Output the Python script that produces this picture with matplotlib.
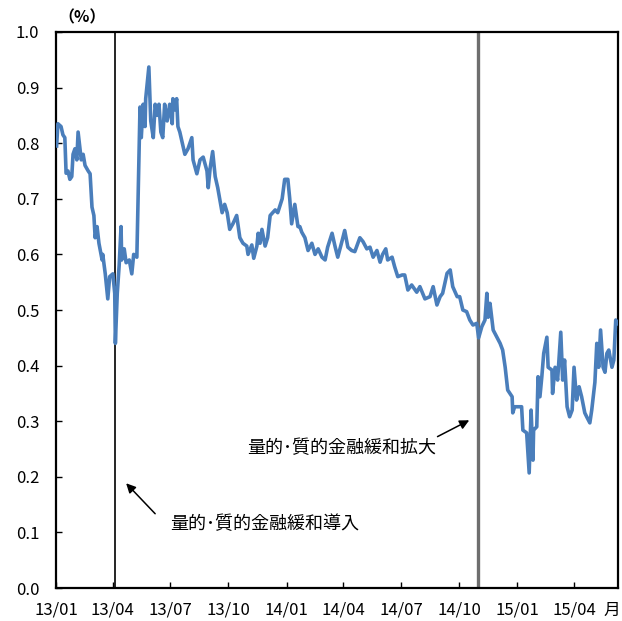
import matplotlib
matplotlib.use("Agg")
import matplotlib.pyplot as plt
import matplotlib.dates as mdates
import pandas as pd

plt.rcParams["font.family"] = ["Noto Sans CJK JP", "DejaVu Sans"]

# days since 2013-01-01 and 10y yield (%)
day_offsets = [
    1, 3, 8, 11, 14, 16, 19, 22, 25, 27, 30, 33, 35, 38, 40, 43, 46, 51, 54, 57,
    60, 62, 65, 68, 73, 74, 78, 82, 85, 90, 93, 94, 97, 100, 103, 104, 108, 111, 116, 120,
    123, 128, 130, 133, 135, 138, 141, 142, 147, 150, 154, 157, 160, 163, 166, 169, 172, 176, 180, 184,
    185, 188, 191, 193, 196, 199, 204, 209, 215, 217, 223, 228, 233, 239, 241, 244, 248, 252, 256, 263,
    267, 271, 275, 280, 286, 291, 296, 302, 304, 310, 313, 318, 320, 323, 326, 331, 335, 339, 343, 347,
    351, 358, 362, 367, 370, 373, 378, 383, 386, 389, 394, 399, 405, 410, 415, 421, 426, 430, 437, 442,
    446, 453, 457, 462, 468, 473, 481, 486, 492, 497, 502, 508, 513, 517, 522, 525, 532, 536, 541, 548,
    552, 557, 563, 571, 576, 584, 592, 597, 603, 608, 612, 619, 624, 628, 635, 639, 644, 650, 655, 660,
    666, 669, 674, 679, 682, 684, 687, 692, 698, 703, 707, 711, 715, 722, 723, 726, 731, 737, 739, 745,
    747, 749, 752, 755, 756, 761, 763, 766, 769, 772, 777, 779, 785, 786, 790, 794, 799, 802, 805, 809,
    813, 817, 820, 824, 828, 832, 837, 840, 845, 848, 853, 856, 859, 862, 866, 869, 872, 875, 880, 883,
    886, 889,
]
yields = [
    0.795, 0.835, 0.83, 0.815, 0.81, 0.746, 0.75, 0.735, 0.74, 0.78, 0.79, 0.77, 0.82, 0.79, 0.77, 0.78, 0.76, 0.75, 0.745, 0.685,
    0.67, 0.63, 0.65, 0.62, 0.59, 0.60, 0.565, 0.52, 0.56, 0.565, 0.53, 0.44, 0.53, 0.58, 0.65, 0.59, 0.61, 0.585, 0.59, 0.565,
    0.60, 0.595, 0.70, 0.865, 0.81, 0.87, 0.83, 0.88, 0.937, 0.84, 0.81, 0.87, 0.85, 0.87, 0.82, 0.81, 0.87, 0.84, 0.87, 0.835,
    0.88, 0.86, 0.88, 0.83, 0.82, 0.805, 0.78, 0.79, 0.81, 0.77, 0.745, 0.77, 0.775, 0.75, 0.72, 0.755, 0.785, 0.74, 0.72, 0.675,
    0.69, 0.675, 0.645, 0.655, 0.67, 0.63, 0.62, 0.615, 0.60, 0.617, 0.593, 0.615, 0.638, 0.62, 0.645, 0.615, 0.63, 0.67, 0.675, 0.68,
    0.675, 0.70, 0.735, 0.735, 0.70, 0.655, 0.69, 0.65, 0.65, 0.64, 0.63, 0.607, 0.62, 0.60, 0.61, 0.595, 0.59, 0.613, 0.638, 0.613,
    0.595, 0.625, 0.643, 0.613, 0.607, 0.605, 0.63, 0.623, 0.61, 0.613, 0.595, 0.607, 0.586, 0.60, 0.61, 0.59, 0.595, 0.578, 0.56, 0.563,
    0.563, 0.536, 0.545, 0.532, 0.542, 0.52, 0.524, 0.542, 0.509, 0.524, 0.53, 0.566, 0.572, 0.542, 0.524, 0.524, 0.50, 0.497, 0.482, 0.473,
    0.476, 0.45, 0.47, 0.482, 0.53, 0.487, 0.512, 0.464, 0.451, 0.44, 0.428, 0.397, 0.356, 0.344, 0.315, 0.326, 0.326, 0.326, 0.284, 0.279,
    0.243, 0.207, 0.32, 0.23, 0.284, 0.29, 0.38, 0.344, 0.38, 0.422, 0.451, 0.397, 0.392, 0.35, 0.397, 0.374, 0.46, 0.374, 0.41, 0.326,
    0.308, 0.32, 0.397, 0.338, 0.362, 0.344, 0.315, 0.308, 0.297, 0.32, 0.37, 0.44, 0.397, 0.464, 0.397, 0.388, 0.422, 0.428, 0.397, 0.41,
    0.482, 0.476,
]

event_dates = ["2013-04-04", "2014-10-31"]
event_labels = ["量的･質的金融緩和導入", "量的･質的金融緩和拡大"]
tick_months = pd.date_range("2013-01-01", "2015-04-01", freq="3MS")

dates = pd.Timestamp("2013-01-01") + pd.to_timedelta(day_offsets, unit="D")

fig = plt.figure(figsize=(6.22, 6.21), dpi=100)
ax = fig.add_axes([0.090, 0.0531, 0.904, 0.8954])

ax.plot(dates, yields, color="#4a7ebb", linewidth=2.6, zorder=3)

ax.axvline(pd.Timestamp(event_dates[0]), color="#000000", linewidth=1.2, zorder=2)
ax.axvline(pd.Timestamp(event_dates[1]), color="#6e6e6e", linewidth=2.4, zorder=2)

ax.set_xlim(pd.Timestamp("2013-01-01"), pd.Timestamp("2015-06-10"))
ax.set_ylim(0, 1.0)
ax.set_yticks([i / 10 for i in range(11)])
ax.yaxis.set_major_formatter(plt.FuncFormatter(lambda v, _: f"{v:.1f}"))
ax.set_xticks(tick_months)
ax.xaxis.set_major_formatter(mdates.DateFormatter("%y/%m"))

ax.tick_params(axis="both", direction="in", length=4, width=1, labelsize=12)
ax.tick_params(axis="y", pad=12)
ax.tick_params(axis="x", pad=10)
for s in ax.spines.values():
    s.set_linewidth(1.6)

fig.text(620 / 622, 1 - 610 / 621, "月", ha="right", va="center", fontsize=12)
ax.text(0.004, 1.026, "（%）", transform=ax.transAxes, ha="left", va="center",
        fontsize=11.5, fontweight="bold")

arrow = dict(arrowstyle="-|>", color="black", linewidth=1.1, mutation_scale=14)
ax.annotate("", xy=(pd.Timestamp("2013-04-19"), 0.192),
            xytext=(pd.Timestamp("2013-06-10"), 0.13), arrowprops=arrow)
ax.text(pd.Timestamp("2013-06-30"), 0.115, event_labels[0], ha="left", va="center", fontsize=13)

ax.annotate("", xy=(pd.Timestamp("2014-10-21"), 0.304),
            xytext=(pd.Timestamp("2014-08-24"), 0.27), arrowprops=arrow)
ax.text(pd.Timestamp("2013-10-30"), 0.252, event_labels[1], ha="left", va="center", fontsize=13)

fig.savefig("out.png", dpi=100)
